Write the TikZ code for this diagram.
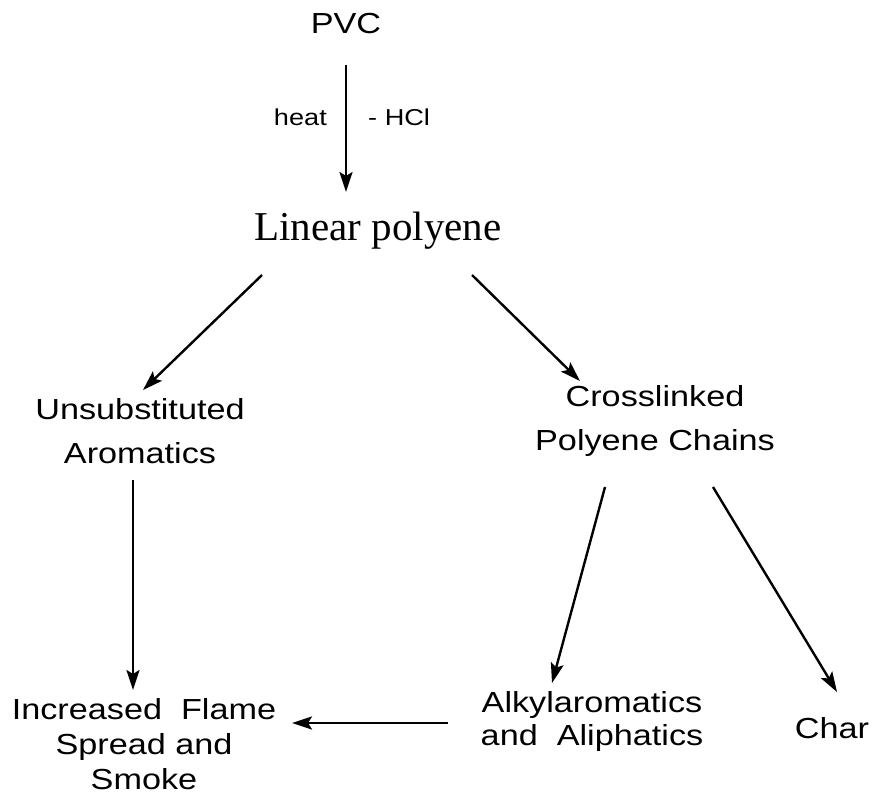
\documentclass[tikz,border=0pt]{standalone}
\usepackage{fontspec}
\setmainfont{Liberation Sans}[FakeStretch=1.18]
\newfontfamily\serifface{Liberation Serif}
\usetikzlibrary{arrows.meta}

\tikzset{
  arr/.style={line width=2.4pt,-{Stealth[length=20pt,width=13pt,inset=4pt]}},
  label/.style={font=\fontsize{29}{44}\selectfont, align=center, inner sep=1pt},
  small/.style={font=\fontsize{23}{28}\selectfont, inner sep=1pt}
}

\begin{document}
\begin{tikzpicture}[x=1pt,y=-1pt]
\useasboundingbox (0,0) rectangle (875,808);

% species
\node[label] (pvc) at (346,24) {PVC};
\node[font=\serifface\fontsize{41}{44}\selectfont, inner sep=1pt] (lin) at (378,231) {Linear polyene};
\node[label] (unsub) at (140,431) {Unsubstituted\\Aromatics};
\node[label] (cross) at (655,421) {Crosslinked\\Polyene Chains};
\node[label, font=\fontsize{29}{35}\selectfont] (flame) at (144,744) {Increased~ Flame\\Spread and\\Smoke};
\node[label, font=\fontsize{29}{33}\selectfont] (alk) at (592,721) {Alkylaromatics\\and~ Aliphatics};
\node[label] (char) at (832,728) {Char};

% reactions
\draw[arr] ([shift={(0,41)}]pvc.center) -- ([shift={(-32,-39)}]lin.center)
  node[pos=0.41, left=17pt, small] {heat}
  node[pos=0.41, right=20pt, small] {- HCl};
\draw[arr] ([shift={(-116,44)}]lin.center) -- ([shift={(3,-41)}]unsub.center);
\draw[arr] ([shift={(94,44)}]lin.center) -- ([shift={(-75,-40)}]cross.center);
\draw[arr] ([shift={(-7,49)}]unsub.center) -- ([shift={(-11,-54)}]flame.center);
\draw[arr] ([shift={(-50,66)}]cross.center) -- ([shift={(-40,-38)}]alk.center);
\draw[arr] ([shift={(58,66)}]cross.center) -- ([shift={(5,-36)}]char.center);
\draw[arr] ([shift={(-144,2)}]alk.center) -- ([shift={(148,-21)}]flame.center);

\end{tikzpicture}
\end{document}
